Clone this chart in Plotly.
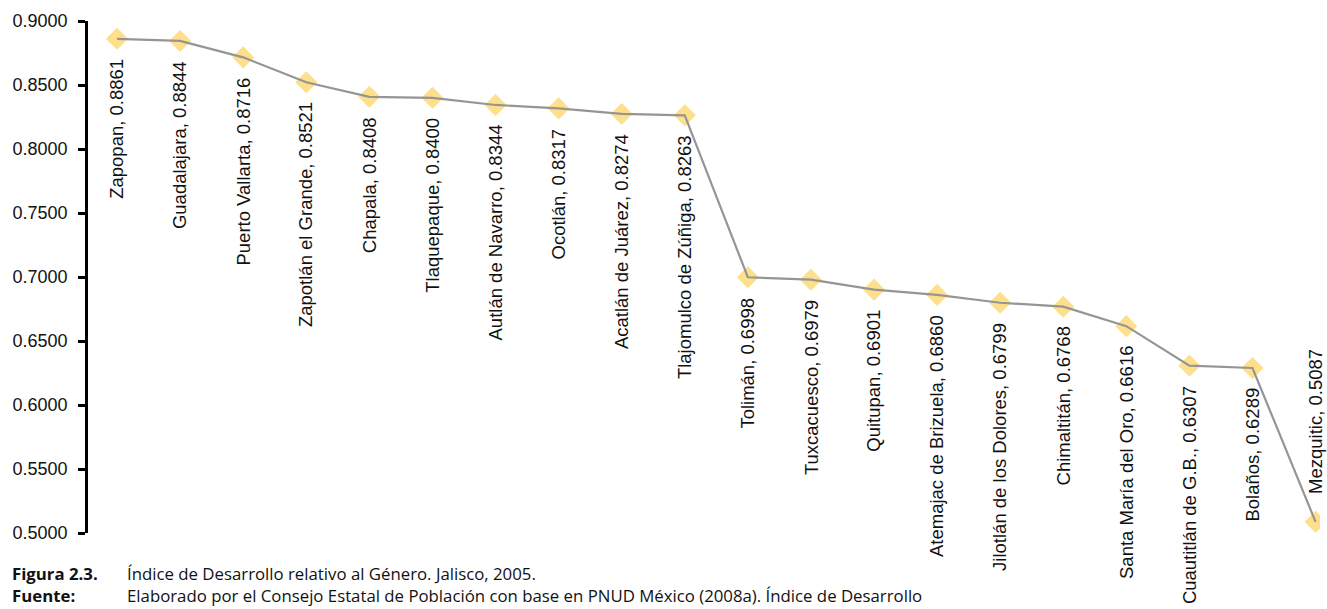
import plotly.graph_objects as go

# Índice de Desarrollo relativo al Género, Jalisco 2005
municipios = [
    "Zapopan", "Guadalajara", "Puerto Vallarta", "Zapotlán el Grande", "Chapala",
    "Tlaquepaque", "Autlán de Navarro", "Ocotlán", "Acatlán de Juárez",
    "Tlajomulco de Zúñiga", "Tolimán", "Tuxcacuesco", "Quitupan",
    "Atemajac de Brizuela", "Jilotlán de los Dolores", "Chimaltitán",
    "Santa María del Oro", "Cuautitlán de G.B.", "Bolaños", "Mezquitic",
]
idg = [
    0.8861, 0.8844, 0.8716, 0.8521, 0.8408, 0.8400, 0.8344, 0.8317, 0.8274, 0.8263,
    0.6998, 0.6979, 0.6901, 0.6860, 0.6799, 0.6768, 0.6616, 0.6307, 0.6289, 0.5087,
]
y_ticks = [0.50, 0.55, 0.60, 0.65, 0.70, 0.75, 0.80, 0.85, 0.90]

xs = list(range(len(municipios)))

fig = go.Figure()
fig.add_trace(go.Scatter(
    x=xs, y=idg, mode="markers",
    marker=dict(symbol="diamond", size=17, color="#FEDF8C"),
    hoverinfo="skip",
))
fig.add_trace(go.Scatter(
    x=xs, y=idg, mode="lines",
    line=dict(color="#959595", width=2.2),
    hoverinfo="skip",
))

# etiquetas verticales
for i, (nombre, v) in enumerate(zip(municipios, idg)):
    abajo = v > 0.55
    fig.add_annotation(
        x=i, y=v, xref="x", yref="y",
        text=f"{nombre}, {v:.4f}",
        textangle=-90, showarrow=False,
        xanchor="center", yanchor="top" if abajo else "bottom",
        yshift=-18 if abajo else 26,
        font=dict(family="Liberation Sans, Arial", size=18.5, color="#111111"),
    )

# pie de figura
caption = [
    ("<b>Figura 2.3.</b>", "Índice de Desarrollo relativo al Género. Jalisco, 2005."),
    ("<b>Fuente:</b>", "Elaborado por el Consejo Estatal de Población con base en PNUD México (2008a). Índice de Desarrollo"),
]
for k, (etq, txt) in enumerate(caption):
    yy = -0.080 - k * 0.043
    fig.add_annotation(x=-0.0634, y=yy, xref="paper", yref="paper", text=etq,
                       showarrow=False, xanchor="left", yanchor="middle",
                       font=dict(family="Open Sans", size=16.8, color="#111111"))
    fig.add_annotation(x=0.0300, y=yy, xref="paper", yref="paper", text=txt,
                       showarrow=False, xanchor="left", yanchor="middle",
                       font=dict(family="Open Sans", size=16.8, color="#111111"))

fig.update_layout(
    width=1327, height=609,
    margin=dict(l=88, r=7, t=21, b=76),
    paper_bgcolor="white", plot_bgcolor="white",
    showlegend=False,
    xaxis=dict(visible=False, range=[-0.46, 19.07]),
    yaxis=dict(
        range=[0.5, 0.9], tickvals=y_ticks, tickformat=".4f",
        showgrid=False, zeroline=False,
        showline=True, linecolor="black", linewidth=2.5,
        ticks="outside", ticklen=7, tickwidth=2.5, tickcolor="black",
        ticklabelstandoff=7,
        tickfont=dict(family="Liberation Sans, Arial", size=18, color="#111111"),
    ),
)

fig.write_html("out.html", config={"displayModeBar": False},
               post_script="document.body.style.margin='0';")
